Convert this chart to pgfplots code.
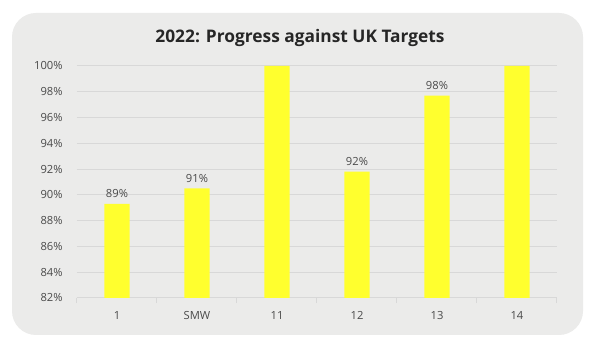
\documentclass[border=0pt]{standalone}
\usepackage{pgfplots}
\pgfplotsset{compat=1.18}
\usepackage{fontspec}
\setmainfont{Open Sans}
\definecolor{bg}{HTML}{EBEBEA}
\definecolor{gridc}{HTML}{D8D8D8}
\definecolor{txt}{HTML}{4A4A4A}
\definecolor{ttl}{HTML}{262626}
\definecolor{baryel}{HTML}{FFFF2E}
\begin{document}
\begin{tikzpicture}[x=0.75pt,y=0.75pt]
\fill[white] (0,0) rectangle (600,349);
\fill[bg, rounded corners=18pt] (12,14) rectangle (583,336);
\node[font=\bfseries\fontsize{13}{15}\selectfont, text=ttl] at (300,311) {2022: Progress against UK Targets};
\begin{axis}[
  at={(57.75pt,38.25pt)}, anchor=south west,
  scale only axis, width=360pt, height=174pt,
  xmin=0, xmax=6, ymin=82, ymax=100,
  ytick={82,84,...,100},
  yticklabel={\pgfmathprintnumber{\tick}\%},
  xtick={0.5,1.5,2.5,3.5,4.5,5.5},
  xticklabels={1,SMW,11,12,13,14},
  minor xtick={0,1,2,3,4,5,6},
  major x tick style={draw=none},
  major y tick style={draw=none},
  minor x tick style={gridc, line width=0.75pt},
  minor tick length=4pt,
  tick align=outside,
  axis x line*=bottom, axis y line*=left,
  x axis line style={gridc, line width=0.75pt, -},
  y axis line style={draw=none},
  ymajorgrids, grid style={gridc, line width=0.75pt},
  tick label style={font=\fontsize{8.4}{10}\selectfont, text=txt},
  yticklabel style={xshift=-3pt},
  xticklabel style={yshift=-2pt},
  /pgf/number format/assume math mode=true,
  ybar, bar width=19pt, bar shift=0pt,
  clip=true,
]
\addplot[fill=baryel, draw=none] coordinates {(0.5,89.3) (1.5,90.5) (2.5,100) (3.5,91.8) (4.5,97.7) (5.5,100)};
\addplot[fill=none, draw=none, nodes near coords, point meta=explicit symbolic,
  every node near coord/.append style={font=\fontsize{8.4}{10}\selectfont, text=txt, yshift=1pt}]
  coordinates {(0.5,89.3)[89\%] (1.5,90.5)[91\%] (3.5,91.8)[92\%] (4.5,97.7)[98\%]};
\end{axis}
\end{tikzpicture}
\end{document}
